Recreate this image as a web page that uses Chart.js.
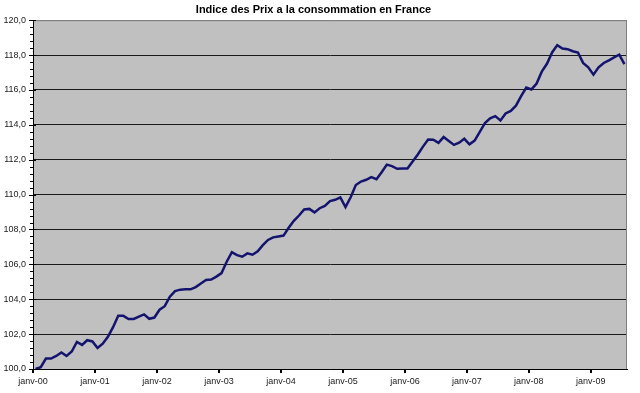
<!DOCTYPE html>
<html>
<head>
<meta charset="utf-8">
<script src="https://cdn.jsdelivr.net/npm/chart.js@4"></script>
<style>
  body { margin: 0; background: #fff; }
</style>
</head>
<body>
<canvas id="cpiChart" width="640" height="393"></canvas>
<script>
const chartTitle = 'Indice des Prix a la consommation en France'

// one label per january (x axis)
const yearLabels = ['janv-00', 'janv-01', 'janv-02', 'janv-03', 'janv-04',
  'janv-05', 'janv-06', 'janv-07', 'janv-08', 'janv-09']

// monthly index, janv-2000 .. juil-2009
const cpi = [
  100.0, 100.1, 100.6, 100.6, 100.75, 100.95, 100.75, 101.0, 101.55, 101.38, 101.65, 101.58,
  101.2, 101.45, 101.85, 102.4, 103.05, 103.05, 102.87, 102.87, 103.0, 103.13, 102.88, 102.95,
  103.4, 103.6, 104.15, 104.47, 104.55, 104.57, 104.57, 104.7, 104.9, 105.1, 105.13, 105.3,
  105.5, 106.15, 106.7, 106.53, 106.44, 106.63, 106.55, 106.75, 107.1, 107.4, 107.55, 107.6,
  107.65, 108.1, 108.5, 108.8, 109.15, 109.18, 108.98, 109.22, 109.35, 109.63, 109.7, 109.84,
  109.28, 109.85, 110.55, 110.75, 110.85, 111.0, 110.88, 111.28, 111.72, 111.63, 111.48, 111.5,
  111.5, 111.9, 112.3, 112.75, 113.16, 113.15, 112.97, 113.3, 113.08, 112.85, 112.98, 113.2,
  112.88, 113.1, 113.6, 114.1, 114.37, 114.5, 114.25, 114.65, 114.8, 115.1, 115.65, 116.14,
  116.03, 116.37, 117.05, 117.5, 118.15, 118.57, 118.38, 118.34, 118.22, 118.15, 117.55, 117.3,
  116.88, 117.3, 117.55, 117.7, 117.87, 118.02, 117.48
]

const yMin = 100
const yMax = 120
const yStep = 2

const font = "'Liberation Sans', Arial, sans-serif"

// grey plot area + frame, like the old excel charts
const plotArea = {
  id: 'plotArea',
  beforeDraw(chart) {
    const { ctx, chartArea: a } = chart
    ctx.save()
    ctx.fillStyle = '#c0c0c0'
    ctx.fillRect(a.left, a.top, a.right - a.left, a.bottom - a.top)
    ctx.restore()
  },
  afterDraw(chart) {
    const { ctx, chartArea: a } = chart
    const y = chart.scales.y
    const x = chart.scales.x
    ctx.save()
    ctx.strokeStyle = '#808080'
    ctx.lineWidth = 1
    ctx.beginPath()
    ctx.moveTo(a.left, a.top + 0.5)
    ctx.lineTo(a.right - 0.5, a.top + 0.5)
    ctx.lineTo(a.right - 0.5, a.bottom)
    ctx.stroke()

    // y ticks, minor every 0.4
    ctx.strokeStyle = '#000'
    ctx.beginPath()
    for (let v = yMin; v <= yMax + 0.001; v += 0.4) {
      const py = Math.round(y.getPixelForValue(v)) + 0.5
      const major = Math.abs(v / yStep - Math.round(v / yStep)) < 0.01
      ctx.moveTo(a.left - (major ? 4 : 3), py)
      ctx.lineTo(a.left + (major ? 3 : 0), py)
    }
    ctx.stroke()

    // x ticks at each january
    ctx.lineWidth = 2
    ctx.beginPath()
    yearLabels.forEach((l, k) => {
      const px = Math.round(x.getPixelForValue(k * 12))
      ctx.moveTo(px, a.bottom)
      ctx.lineTo(px, a.bottom + 4)
    })
    ctx.stroke()
    ctx.restore()
  }
}

new Chart(document.getElementById('cpiChart'), {
  type: 'line',
  data: {
    datasets: [{
      data: cpi.map((v, i) => ({ x: i + 0.5, y: v })),
      borderColor: '#14146e',
      borderWidth: 2.5,
      pointRadius: 0,
      tension: 0,
      fill: false
    }]
  },
  options: {
    responsive: false,
    animation: false,
    devicePixelRatio: 1,
    layout: { padding: { left: 0, right: 13, top: 0, bottom: 0 } },
    plugins: {
      legend: { display: false },
      tooltip: { enabled: false },
      title: {
        display: true,
        text: chartTitle,
        color: '#000',
        font: { family: font, size: 11, weight: 'bold', lineHeight: 1.2 },
        padding: { top: 3, bottom: 4 }
      }
    },
    scales: {
      x: {
        type: 'linear',
        min: 0,
        max: cpi.length,
        afterBuildTicks: scale => {
          scale.ticks = yearLabels.map((l, k) => ({ value: k * 12 }))
        },
        afterFit: scale => { scale.height = 24 },
        ticks: {
          callback: v => yearLabels[Math.round(v / 12)],
          color: '#222',
          font: { family: font, size: 9 },
          padding: 7,
          maxRotation: 0,
          autoSkip: false
        },
        grid: { display: false, drawTicks: false },
        border: { color: '#000', width: 1 }
      },
      y: {
        min: yMin,
        max: yMax,
        afterFit: scale => { scale.width = 33 },
        ticks: {
          stepSize: yStep,
          callback: v => v.toFixed(1).replace('.', ','),
          color: '#222',
          font: { family: font, size: 9 },
          padding: 7
        },
        grid: {
          color: ctx => ctx.tick && ctx.tick.value === yMax ? '#808080' : '#1a1a1a',
          lineWidth: 1,
          drawTicks: false
        },
        border: { color: '#000', width: 1 }
      }
    }
  },
  plugins: [plotArea]
})
</script>
</body>
</html>
